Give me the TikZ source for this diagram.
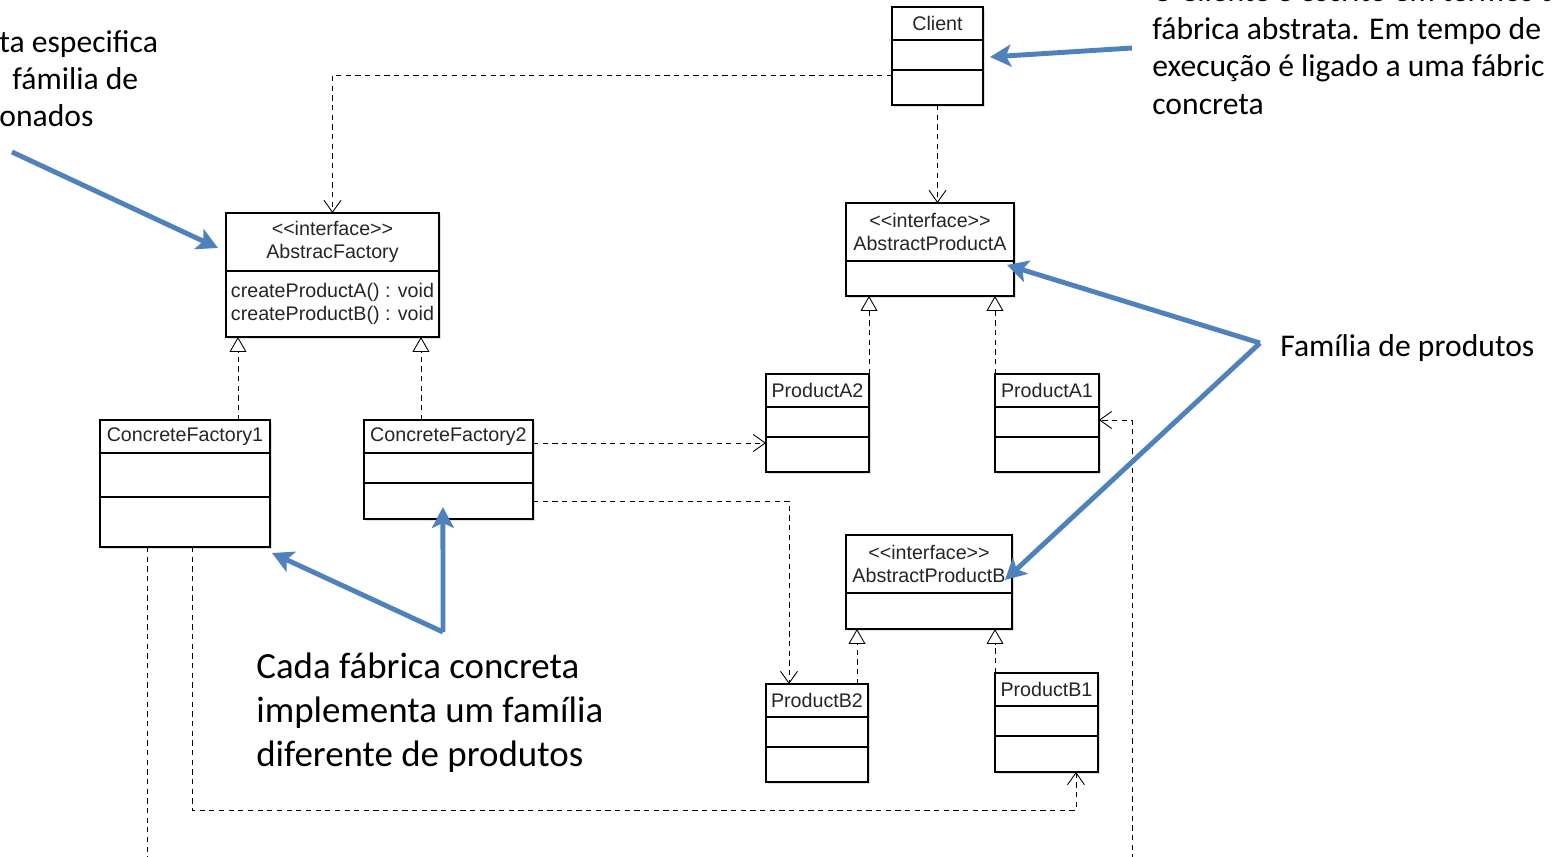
\documentclass[tikz,border=0pt]{standalone}
\usepackage{fontspec}
\newfontfamily\umlfont{Liberation Sans}
\newfontfamily\notefont{Carlito}
\usetikzlibrary{arrows.meta}
\usetikzlibrary{positioning}
\usetikzlibrary{shadows}
\definecolor{noteblue}{RGB}{79,129,189}

\begin{document}
\begin{tikzpicture}[x=0.02cm, y=-0.02cm]
        \tikzset{cls/.style={draw, rectangle, fill=white, line width=0.8pt, inner sep=0pt, outer sep=0pt, align=center,
                 font=\umlfont\fontsize{11.2}{13}\selectfont, text=black!85,
                 drop shadow={shadow xshift=1pt, shadow yshift=-1pt, fill=black!25}},
        dep/.style={draw, dash pattern=on 3pt off 2.5pt, line width=0.5pt, -{Straight Barb[length=0.24cm, width=0.34cm]}},
        impl/.style={draw, dash pattern=on 3pt off 2.5pt, line width=0.5pt, -{Triangle[open, length=0.3cm, width=0.34cm]}},
        note/.style={font=\notefont\fontsize{18}{21.5}\selectfont, inner sep=0pt, align=left},
        bignote/.style={font=\notefont\fontsize{21}{25}\selectfont, inner sep=0pt, align=left},
        hint/.style={draw=noteblue, line width=2.8pt, line join=round, -{Stealth[length=0.42cm, width=0.44cm, inset=0.1cm]}}
        }
        \useasboundingbox (0,0) rectangle (1552,856);
        \clip (0,0) rectangle (1552,856);

        %% classes
        \node [cls, anchor=north west, minimum width=1.82cm, minimum height=0.66cm] (client) at (892,7) {Client};
        \node [cls, below=0pt of client, minimum width=1.82cm, minimum height=0.6cm] (clientb) {};
        \node [cls, below=0pt of clientb, minimum width=1.82cm, minimum height=0.7cm] (clientc) {};

        \node [cls, anchor=north west, minimum width=4.26cm, minimum height=1.16cm] (absfac) at (226,213) {<{}<interface>{}>\\AbstracFactory};
        \node [cls, below=0pt of absfac, minimum width=4.26cm, minimum height=1.32cm, align=left] (absfacb) {createProductA() : void\\createProductB() : void};

        \node [cls, anchor=north west, minimum width=3.4cm, minimum height=0.66cm] (cf1) at (100,420) {ConcreteFactory1};
        \node [cls, below=0pt of cf1, minimum width=3.4cm, minimum height=0.88cm] (cf1b) {};
        \node [cls, below=0pt of cf1b, minimum width=3.4cm, minimum height=1cm] (cf1c) {};

        \node [cls, right=1.88cm of cf1, minimum width=3.38cm, minimum height=0.66cm] (cf2) {ConcreteFactory2};
        \node [cls, below=0pt of cf2, minimum width=3.38cm, minimum height=0.6cm] (cf2b) {};
        \node [cls, below=0pt of cf2b, minimum width=3.38cm, minimum height=0.72cm] (cf2c) {};

        \node [cls, anchor=north west, minimum width=3.36cm, minimum height=1.16cm] (absA) at (846,203) {<{}<interface>{}>\\AbstractProductA};
        \node [cls, below=0pt of absA, minimum width=3.36cm, minimum height=0.7cm] (absAb) {};

        \node [cls, anchor=north west, minimum width=2.06cm, minimum height=0.66cm] (prodA2) at (766,374) {ProductA2};
        \node [cls, below=0pt of prodA2, minimum width=2.06cm, minimum height=0.6cm] (prodA2b) {};
        \node [cls, below=0pt of prodA2b, minimum width=2.06cm, minimum height=0.7cm] (prodA2c) {};

        \node [cls, right=2.52cm of prodA2, minimum width=2.08cm, minimum height=0.66cm] (prodA1) {ProductA1};
        \node [cls, below=0pt of prodA1, minimum width=2.08cm, minimum height=0.6cm] (prodA1b) {};
        \node [cls, below=0pt of prodA1b, minimum width=2.08cm, minimum height=0.7cm] (prodA1c) {};

        \node [cls, anchor=north west, minimum width=3.32cm, minimum height=1.16cm] (absB) at (846,535) {<{}<interface>{}>\\AbstractProductB};
        \node [cls, below=0pt of absB, minimum width=3.32cm, minimum height=0.72cm] (absBb) {};

        \node [cls, anchor=north west, minimum width=2.04cm, minimum height=0.66cm] (prodB2) at (766,684) {ProductB2};
        \node [cls, below=0pt of prodB2, minimum width=2.04cm, minimum height=0.6cm] (prodB2b) {};
        \node [cls, below=0pt of prodB2b, minimum width=2.04cm, minimum height=0.7cm] (prodB2c) {};

        \node [cls, anchor=north west, minimum width=2.06cm, minimum height=0.66cm] (prodB1) at (995,673) {ProductB1};
        \node [cls, below=0pt of prodB1, minimum width=2.06cm, minimum height=0.6cm] (prodB1b) {};
        \node [cls, below=0pt of prodB1b, minimum width=2.06cm, minimum height=0.72cm] (prodB1c) {};

        %% notes
        \node [note, anchor=base west] (noteL1) at (-1,52) {ta especifica};
        \node [note, anchor=base west] (noteL2) at (12,89) {fámilia de};
        \node [note, anchor=base west] (noteL3) at (-1,126) {onados};
        \node [note, anchor=north west] (noteC) at (1152,-21) {O Cliente é escrito em termos d\\fábrica abstrata. Em tempo de\\execução é ligado a uma fábric\\concreta};
        \node [note, anchor=base west] (noteF) at (1280,356) {Família de produtos};
        \node [bignote, anchor=north west] (noteK) at (256,653) {Cada fábrica concreta\\implementa um família\\diferente de produtos};

        \coordinate (tipL) at (12,152);
        \coordinate (tipC) at (1132,48);
        \coordinate (tipF) at (1260,343);
        \coordinate (tipK) at (443,632);
        \coordinate (a2in) at ([yshift=-0.12cm]prodA2c.north west);
        \coordinate (a1in) at ([yshift=-0.26cm]prodA1b.north east);
        \coordinate (b1in) at ([xshift=1.62cm]prodB1c.south west);

%% paths
        \draw[dep] ([yshift=-0.1cm]clientc.north west) -| (absfac.north);
        \draw[dep] (clientc.south) -- (clientc.south |- absA.north);
        \draw[impl] ([xshift=-0.64cm]cf1.north east) -- ([xshift=-0.64cm]cf1.north east |- absfacb.south);
        \draw[impl] ([xshift=1.14cm]cf2.north west) -- ([xshift=1.14cm]cf2.north west |- absfacb.south);
        \draw[impl] (prodA2.north east) -- (prodA2.north east |- absAb.south);
        \draw[impl] (prodA1.north west) -- (prodA1.north west |- absAb.south);
        \draw[impl] ([xshift=-0.22cm]prodB2.north east) -- ([xshift=-0.22cm]prodB2.north east |- absBb.south);
        \draw[impl] (prodB1.north west) -- (prodB1.north west |- absBb.south);
        \draw[dep] (cf2.east |- a2in) -- (a2in);
        \draw[dep] (cf2c.east) -| ([xshift=0.46cm]prodB2.north west);
        \draw[dep] ([xshift=1.84cm]cf1c.south west) |- ([yshift=-0.76cm]b1in) -- (b1in);
        \draw[dep] ([xshift=0.94cm]cf1c.south west) -- ++(0,-7cm) -| ([xshift=0.66cm]a1in) -- (a1in);

        \draw[hint] (tipL) -- ([xshift=-0.16cm, yshift=-0.12cm]absfac.west);
        \draw[hint] (tipC) -- ([xshift=0.14cm, yshift=-0.04cm]clientb.east);
        \draw[hint] (tipF) -- ([xshift=-0.14cm, yshift=-0.08cm]absAb.north east);
        \draw[hint] (tipF) -- ([xshift=-0.14cm, yshift=-0.32cm]absB.east);
        \draw[hint] (tipK) -- ([xshift=0.04cm, yshift=-0.12cm]cf1c.south east);
        \draw[hint] (tipK) -- ([xshift=-0.11cm, yshift=0.24cm]cf2c.south);
    \end{tikzpicture}
\end{document}
